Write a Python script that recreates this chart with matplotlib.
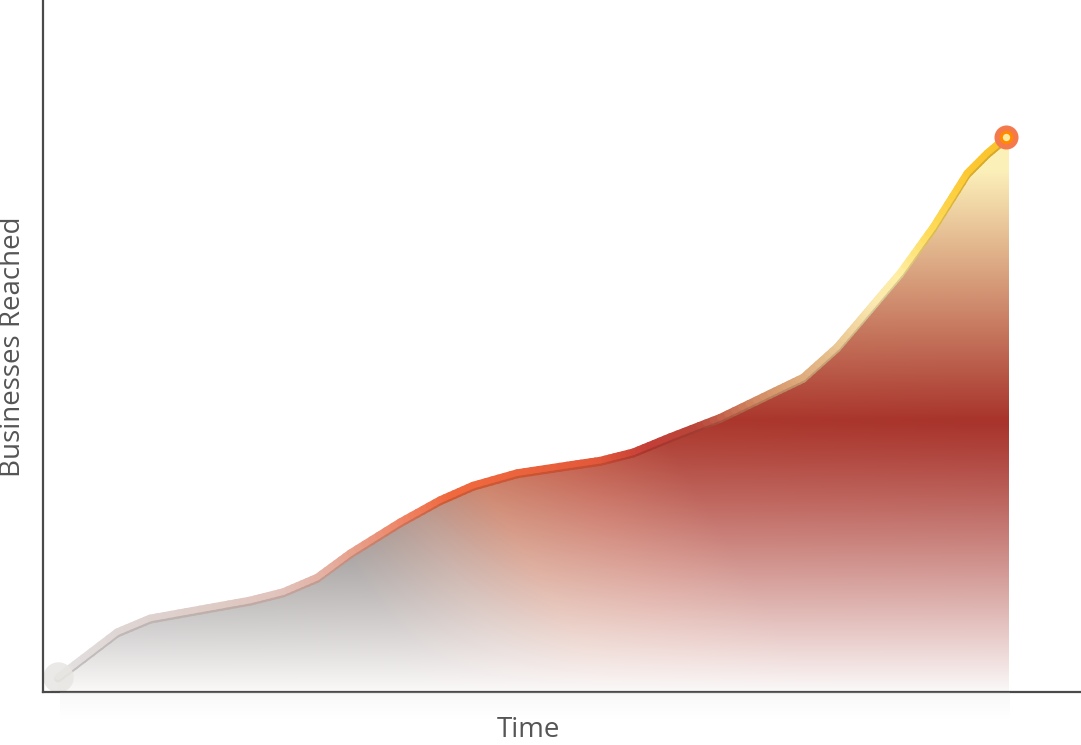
import numpy as np
import matplotlib.pyplot as plt
from matplotlib.collections import LineCollection
from matplotlib.patches import Polygon
from matplotlib.transforms import ScaledTranslation

# growth curve (time in %, businesses in % of axis height)
time = [1.5, 7.4, 10.7, 15.7, 20.7, 24.0, 27.4, 30.7, 35.7, 39.7, 43.0, 47.4, 52.4, 55.7,
        59.0, 62.7, 67.7, 72.7, 76.0, 79.4, 81.7, 83.4, 85.7, 89.0, 92.4, 94.4, 96.3]
reached = [2.2, 8.7, 10.7, 12.0, 13.3, 14.5, 16.6, 20.1, 24.6, 27.8, 29.9, 31.7, 32.8, 33.5,
           34.7, 36.9, 39.7, 43.2, 45.5, 49.9, 53.8, 56.7, 60.6, 67.2, 75.0, 77.9, 80.2]

x_label = "Time"
y_label = "Businesses Reached"

W, H = 1081, 745
fig = plt.figure(figsize=(W / 100, H / 100), dpi=100)
ax = fig.add_axes([43 / W, 53 / H, 1038 / W, 692 / H])
ax.set_xlim(0, 103.8)
ax.set_ylim(0, 100)

# --- gradient fill under the curve ---
nx, ny = 1038, 692
xs = np.linspace(0, 103.8, nx)
ys = np.linspace(100, 0, ny)
px = 43 + xs * 10
py = 692 - ys * 6.92
PX, PY = np.meshgrid(px, py)
PXE = PX - 0.6 * (PY - 480)   # tilt the hue change a little

bx = [43, 300, 400, 480, 580, 690, 1010]
base = np.stack([np.interp(PXE, bx, [95, 105, 160, 195, 190, 172, 168]),
                 np.interp(PXE, bx, [95, 100, 115, 105, 80, 56, 52]),
                 np.interp(PXE, bx, [95, 98, 100, 75, 60, 45, 44])], axis=-1)
yellow = np.array([252, 240, 185])
w = np.clip((420 - PY) / 250, 0, 1)[..., None]
img = base * (1 - w) + yellow * w
white = np.array([250, 247, 247])
f = (np.clip((PY - 420) / 270, 0, 1) ** 1.15)[..., None]
img = img * (1 - f) + white * f
im = ax.imshow(img.astype(np.uint8), extent=(0, 103.8, 0, 100), aspect="auto",
               origin="upper", zorder=1, interpolation="bilinear")
poly = np.column_stack([[time[0]] + time + [time[-1] + 0.3, time[-1] + 0.3],
                        [0] + reached + [reached[-1], 0]])
clip = Polygon(poly, closed=True, transform=ax.transData, facecolor="none", edgecolor="none")
ax.add_patch(clip)
im.set_clip_path(clip)

# --- colour-graded line ---
lx = [58, 120, 200, 280, 330, 400, 450, 520, 600, 650, 700, 760, 830, 875, 900, 930, 970, 1006]
lr = [228, 222, 222, 225, 228, 238, 240, 236, 226, 195, 185, 210, 230, 250, 255, 254, 252, 250]
lg = [226, 214, 205, 195, 175, 135, 105, 100, 88, 62, 70, 140, 190, 232, 238, 220, 200, 195]
lb = [226, 212, 200, 188, 160, 105, 62, 60, 58, 55, 58, 100, 140, 175, 165, 90, 50, 45]
segs, cols = [], []
for i in range(len(time) - 1):
    tx = np.linspace(time[i], time[i + 1], 8)
    ty = np.linspace(reached[i], reached[i + 1], 8)
    for j in range(7):
        segs.append([(tx[j], ty[j]), (tx[j + 1], ty[j + 1])])
        mx = 43 + (tx[j] + tx[j + 1]) / 2 * 10
        cols.append((np.interp(mx, lx, lr) / 255, np.interp(mx, lx, lg) / 255,
                     np.interp(mx, lx, lb) / 255))
shade = LineCollection(segs, colors=[(c[0] * 0.86, c[1] * 0.86, c[2] * 0.86) for c in cols],
                       linewidths=5.6, capstyle="round", joinstyle="round", zorder=3)
shade.set_transform(ax.transData + ScaledTranslation(0, -1.3 / 72, fig.dpi_scale_trans))
ax.add_collection(shade)
lc = LineCollection(segs, colors=cols, linewidths=4.8, capstyle="round", joinstyle="round", zorder=4)
ax.add_collection(lc)

# end markers
ax.scatter([time[0]], [reached[0]], s=480, color=(0.91, 0.90, 0.89), alpha=0.85, zorder=5, lw=0)
ax.scatter([time[-1]], [reached[-1]], s=300, color="#f47a4e", zorder=6, lw=0)
ax.scatter([time[-1]], [reached[-1]], s=95, color="#ff8a00", zorder=7, lw=0)
ax.scatter([time[-1]], [reached[-1]], s=28, color="#ffeaa0", zorder=8, lw=0)

# faint reflection under the axis
rax = fig.add_axes([60 / W, 25 / H, 950 / W, 28 / H])
refl = np.zeros((28, 10, 4))
refl[..., :3] = 0.85
refl[..., 3] = np.linspace(0.18, 0.0, 28)[:, None]
rax.imshow(refl, aspect="auto", extent=(0, 1, 0, 1))
rax.set_axis_off()

for s in ["top", "right"]:
    ax.spines[s].set_visible(False)
for s in ["left", "bottom"]:
    ax.spines[s].set_color("#4a4a4a")
    ax.spines[s].set_linewidth(1.6)
    ax.spines[s].set_zorder(10)
ax.set_xticks([])
ax.set_yticks([])

fig.text(528 / W, 1 - 744 / H, x_label, ha="center", va="bottom", fontsize=20,
         color="#555555", family="Open Sans")
fig.text(13 / W, 1 - 347 / H, y_label, ha="center", va="center", fontsize=20,
         color="#555555", family="Open Sans", rotation=90)

fig.savefig("out.png", dpi=100)
